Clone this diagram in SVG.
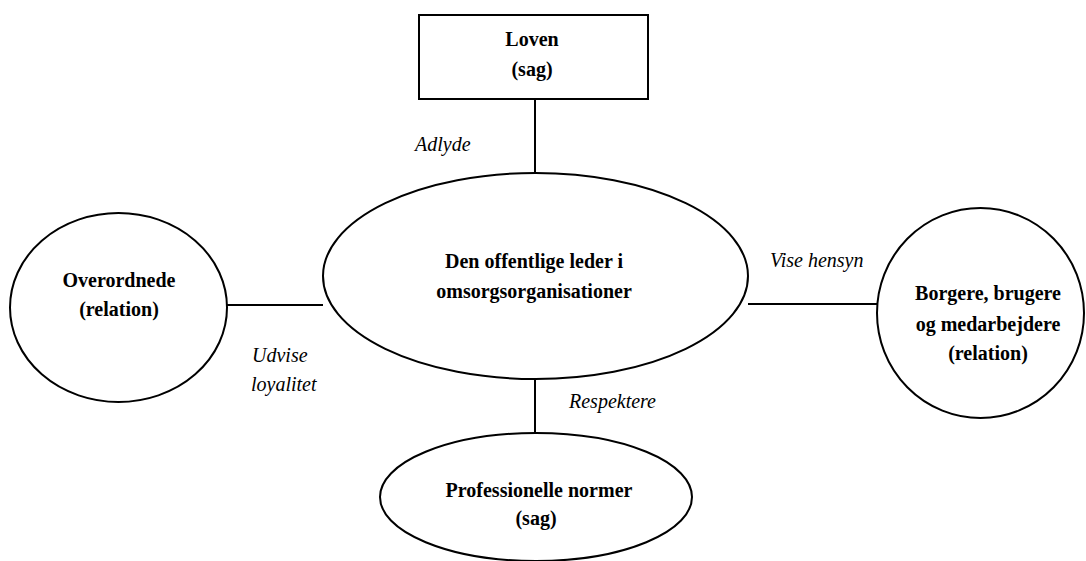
<svg xmlns="http://www.w3.org/2000/svg" width="1086" height="561" viewBox="0 0 1086 561">
<style>
.shape{fill:#fff;stroke:#000;stroke-width:2}
.conn{stroke:#000;stroke-width:2;fill:none}
.b{font-family:'Liberation Serif',Tinos,'Times New Roman','DejaVu Serif',serif;font-weight:bold;font-size:20px;fill:#000;text-anchor:middle}
.i{font-family:'Liberation Serif',Tinos,'Times New Roman','DejaVu Serif',serif;font-style:italic;font-size:20px;fill:#000}
</style>
<rect width="1086" height="561" fill="#fff"/>
<g id="connectors">
<line class="conn" x1="535" y1="99" x2="535" y2="173"/>
<line class="conn" x1="227" y1="305" x2="323" y2="305"/>
<line class="conn" x1="748" y1="304" x2="877" y2="304"/>
<line class="conn" x1="535" y1="379" x2="535" y2="433"/>
<text class="i" x="415" y="151">Adlyde</text>
<text class="i" x="770" y="267">Vise hensyn</text>
<text class="i" x="252" y="362">Udvise</text>
<text class="i" x="251" y="391">loyalitet</text>
<text class="i" x="569" y="408">Respektere</text>
</g>
<g id="loven">
<rect class="shape" x="419" y="15" width="229" height="84"/>
<text class="b" x="532" y="46">Loven</text>
<text class="b" x="532" y="76">(sag)</text>
</g>
<g id="leder">
<ellipse class="shape" cx="535.5" cy="276" rx="212.5" ry="103"/>
<text class="b" x="534" y="268">Den offentlige leder i</text>
<text class="b" x="534" y="298">omsorgsorganisationer</text>
</g>
<g id="overordnede">
<ellipse class="shape" cx="118.5" cy="307.5" rx="108.5" ry="94.5"/>
<text class="b" x="119" y="287">Overordnede</text>
<text class="b" x="119" y="316">(relation)</text>
</g>
<g id="borgere">
<ellipse class="shape" cx="980.5" cy="313" rx="103.5" ry="105"/>
<text class="b" x="988" y="300">Borgere, brugere</text>
<text class="b" x="988" y="331">og medarbejdere</text>
<text class="b" x="988" y="360">(relation)</text>
</g>
<g id="normer">
<ellipse class="shape" cx="536" cy="497" rx="156" ry="64"/>
<text class="b" x="539" y="497">Professionelle normer</text>
<text class="b" x="536" y="525">(sag)</text>
</g>
</svg>
